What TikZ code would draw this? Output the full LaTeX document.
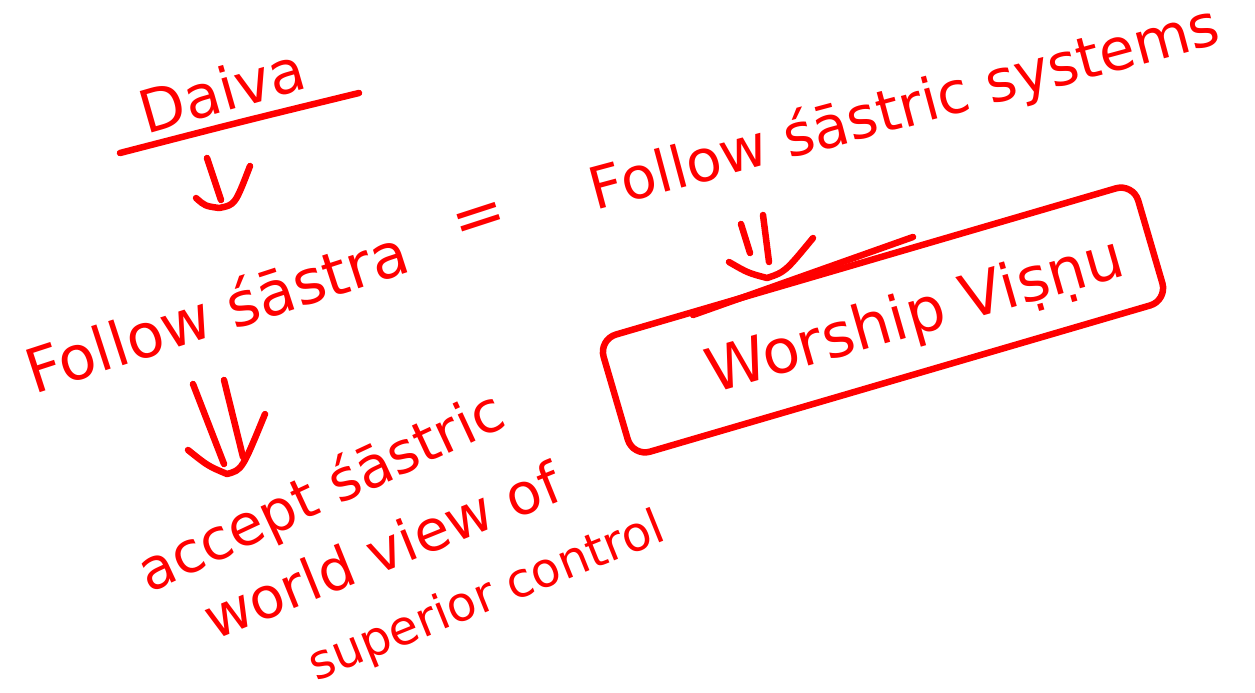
\documentclass[tikz,border=0pt]{standalone}
\usepackage{fontspec}
\setmainfont{DejaVu Sans}
\definecolor{ink}{RGB}{255,0,0}
\begin{document}
\begin{tikzpicture}[x=1pt,y=-1pt,
  pen/.style={draw=ink, line width=6.5pt, line cap=round, line join=round},
  hand/.style={text=ink, inner sep=0pt, font=\fontsize{#1}{#1}\selectfont},
  hand/.default=60,
  boxframe/.style={draw=ink, line width=6.5pt, rounded corners=18pt, inner sep=0pt}]
\useasboundingbox (0,0) rectangle (1255,693);

% texts
\node[hand=59, rotate=16] (daiva) at (222,90) {Daiva};
\node[hand=61, rotate=18] (follow) at (216,310) {Follow śāstra};
\node[hand=64, rotate=18] (eq) at (481,222) {=};
\node[hand=58, rotate=15] (systems) at (905,110) {Follow śāstric systems};
\node[boxframe, rotate=16.3, minimum width=557pt, minimum height=122pt] (box) at (883,320) {};
\node[hand=61, rotate=16] (worship) at (916,318) {Worship Viṣṇu};
\node[hand=57, rotate=25] (acc1) at (322,494) {accept śāstric};
\node[hand=57, rotate=22] (acc2) at (382,550) {world view of};
\node[hand=48, rotate=22] (acc3) at (487,598) {superior control};

% underline of Daiva
\coordinate (ulA) at (120,153);
\coordinate (ulB) at (359,93);
\draw[pen] (ulA) .. controls (240,122) .. (ulB);

% arrow Daiva -> Follow sastra
\coordinate (a1top) at (207,158);
\coordinate (a1end) at (221,200);
\coordinate (a1l) at (196,198);
\coordinate (a1tip) at (219,208);
\coordinate (a1r) at (250,166);
\draw[pen] (a1top) -- (a1end);
\draw[pen] (a1l) .. controls (205,206) .. (a1tip) .. controls (235,205) .. (a1r);

% double arrow Follow sastra -> accept
\coordinate (a2la) at (193,384);
\coordinate (a2lb) at (224,464);
\coordinate (a2ra) at (224,380);
\coordinate (a2rb) at (243,457);
\coordinate (a2l) at (188,450);
\coordinate (a2tip) at (227,474);
\coordinate (a2r) at (265,414);
\draw[pen] (a2la) -- (a2lb);
\draw[pen] (a2ra) -- (a2rb);
\draw[pen] (a2l) .. controls (208,466) .. (a2tip) .. controls (242,470) .. (a2r);

% double arrow systems -> worship
\coordinate (a3la) at (741,224);
\coordinate (a3lb) at (750,253);
\coordinate (a3ra) at (763,215);
\coordinate (a3rb) at (769,262);
\coordinate (a3l) at (729,262);
\coordinate (a3tip) at (767,278);
\coordinate (a3r) at (813,238);
\draw[pen] (a3la) -- (a3lb);
\draw[pen] (a3ra) -- (a3rb);
\draw[pen] (a3l) .. controls (748,273) .. (a3tip) .. controls (785,272) .. (a3r);

% stray stroke along the top of the box
\coordinate (stA) at (693,315);
\coordinate (stB) at (913,237);
\draw[pen] (stA) -- (stB);
\end{tikzpicture}
\end{document}
